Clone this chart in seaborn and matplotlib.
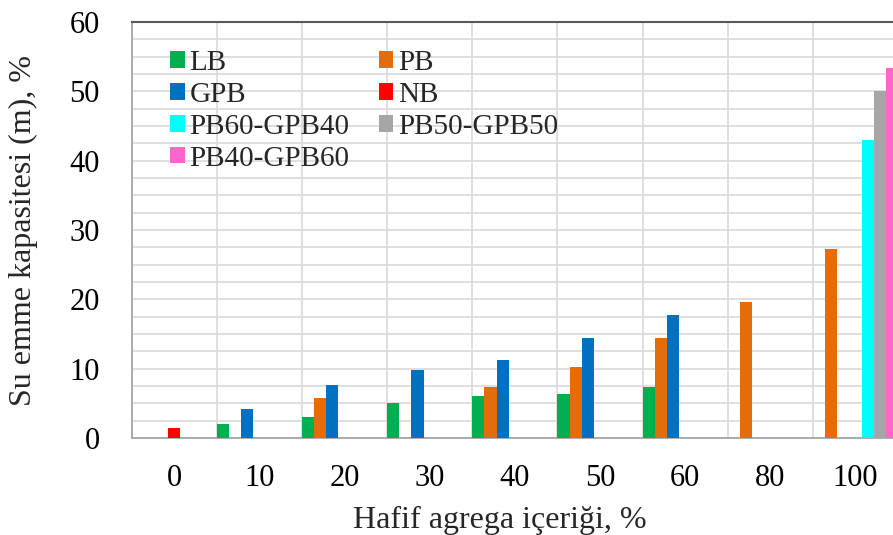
import numpy as np
import pandas as pd
import matplotlib
matplotlib.use("Agg")
import matplotlib.pyplot as plt
from matplotlib.patches import Patch
import seaborn as sns

# Lightweight aggregate content (x categories)
categories = ["0", "10", "20", "30", "40", "50", "60", "80", "100"]

# Water absorption capacity (%) per mix series; None = not tested
lb_vals = [None, 2.0, 3.0, 5.1, 6.1, 6.3, 7.4, None, None]
pb_vals = [None, None, 5.7, None, 7.4, 10.2, 14.4, 19.6, 27.2]
gpb_vals = [None, 4.2, 7.7, 9.8, 11.3, 14.4, 17.8, None, None]
nb_vals = [1.5, None, None, None, None, None, None, None, None]
pb60_gpb40_vals = [None, None, None, None, None, None, None, None, 43.0]
pb50_gpb50_vals = [None, None, None, None, None, None, None, None, 50.0]
pb40_gpb60_vals = [None, None, None, None, None, None, None, None, 53.4]

series_names = ["LB", "PB", "GPB", "NB", "PB60-GPB40", "PB50-GPB50", "PB40-GPB60"]
series_values = [lb_vals, pb_vals, gpb_vals, nb_vals,
                 pb60_gpb40_vals, pb50_gpb50_vals, pb40_gpb60_vals]
series_colors = ["#00B050", "#E46C0A", "#0070C0", "#FF0000",
                 "#00FFFF", "#A6A6A6", "#FF66CC"]

rows = []
for name, vals in zip(series_names, series_values):
    for cat, v in zip(categories, vals):
        if v is not None:
            rows.append({"cat": cat, "val": v, "series": name})
df = pd.DataFrame(rows)

sns.set_style("white")
plt.rcParams["font.family"] = ["Liberation Serif", "DejaVu Serif"]

W, H = 893, 535
fig = plt.figure(figsize=(W / 100, H / 100), dpi=100)
left, top, bottom = 131.5, 22, 438
cat_w = 85.17
right = left + cat_w * len(categories)
ax = fig.add_axes([left / W, 1 - bottom / H, (right - left) / W, (bottom - top) / H])

sns.barplot(data=df, x="cat", y="val", hue="series", order=categories,
            hue_order=series_names, palette=dict(zip(series_names, series_colors)),
            width=1.0, dodge=True, saturation=1, errorbar=None,
            linewidth=0, legend=False, ax=ax, zorder=3)

ax.set_xlim(-0.5, len(categories) - 0.5)
ax.set_ylim(0, 60)
ax.set_xlabel("")
ax.set_ylabel("")

grid_c = "#d9d9d9"
axis_c = "#a0a0a0"

# y axis: labelled majors every 10, minors every 2.5 with gridlines
ax.set_yticks(np.arange(0, 61, 10))
ax.set_yticks(np.arange(0, 60.1, 2.5), minor=True)
ax.tick_params(axis="y", which="major", length=11, width=1, color=axis_c,
               direction="out", labelsize=22, pad=12, labelcolor="black")
ax.tick_params(axis="y", which="minor", length=8, width=1, color=axis_c, direction="out")

# x axis: labels at category centres, tick marks at category boundaries
ax.set_xticks(range(len(categories)))
ax.set_xticklabels(categories)
ax.set_xticks(np.arange(-0.5, len(categories), 1.0), minor=True)
ax.tick_params(axis="x", which="major", length=0, labelsize=22, pad=19, labelcolor="black")
ax.tick_params(axis="x", which="minor", length=8, width=1, color=axis_c, direction="out")

ax.grid(True, axis="y", which="both", color=grid_c, linewidth=1.2, zorder=0)
ax.grid(True, axis="x", which="minor", color=grid_c, linewidth=1.2, zorder=0)
ax.grid(False, axis="x", which="major")
ax.set_axisbelow(True)

for side in ["left", "bottom", "right"]:
    ax.spines[side].set_color(axis_c)
    ax.spines[side].set_linewidth(1.2)
ax.spines["top"].set_color("#595959")
ax.spines["top"].set_linewidth(1.5)

# Legend, filled row by row in two columns
order = [0, 2, 4, 6, 1, 3, 5]
handles = [Patch(facecolor=series_colors[i], edgecolor="none") for i in order]
labels = [series_names[i] for i in order]
fig.legend(handles, labels, ncol=2, loc="upper left",
           bbox_to_anchor=(170 / W, 1 - 50 / H), frameon=False,
           fontsize=21, handlelength=0.5, handleheight=0.5,
           handletextpad=0.17, columnspacing=1.0, labelspacing=0.2,
           borderpad=0, borderaxespad=0)

fig.text(500 / W, 1 - 520 / H, "Hafif agrega içeriği, %", ha="center", va="center",
         fontsize=23)
fig.text(23 / W, 1 - 230 / H, "Su emme kapasitesi (m), %", ha="center", va="center",
         rotation=90, fontsize=23)

fig.savefig("out.png", dpi=100)
